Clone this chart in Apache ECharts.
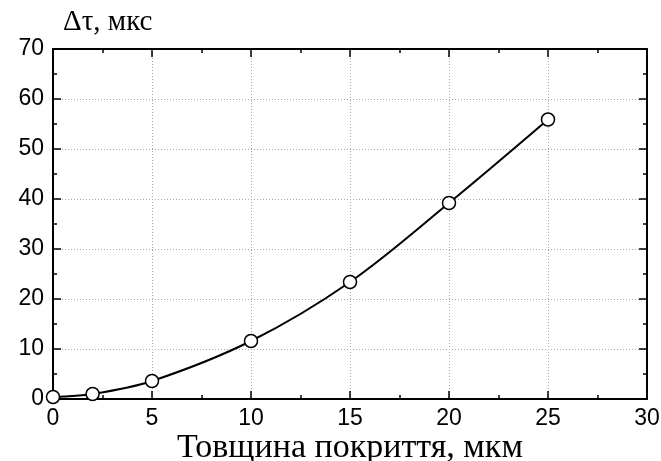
<!DOCTYPE html>
<html>
<head>
<meta charset="utf-8">
<script src="https://cdn.jsdelivr.net/npm/echarts@6/dist/echarts.min.js"></script>
<style>html,body{margin:0;padding:0;background:#fff}#c{width:661px;height:461px}</style>
</head>
<body>
<div id="c"></div>
<script>
const thickness = [0, 2, 5, 10, 15, 20, 25];
const delay = [0.4, 1.0, 3.6, 11.6, 23.4, 39.2, 55.9];
const xTitle = 'Товщина покриття, мкм';
const yTitle = 'Δτ, мкс';

const chart = echarts.init(document.getElementById('c'));
const axisCommon = {
  axisLine: {show: true, onZero: false, lineStyle: {color: '#000', width: 2}},
  axisTick: {show: true, inside: true, length: 8, lineStyle: {color: '#000', width: 1.5}},
  minorTick: {show: true, splitNumber: 2, length: 4, lineStyle: {color: '#000', width: 1.5}},
};
chart.setOption({
  animation: false,
  grid: {left: 53, right: 14, top: 49, bottom: 62, containLabel: false, outerBoundsMode: 'none'},
  xAxis: [
    Object.assign({
      type: 'value', min: 0, max: 30, interval: 5, position: 'bottom',
      name: xTitle, nameLocation: 'middle', nameGap: 32, nameMoveOverlap: false,
      nameTextStyle: {fontFamily: 'Liberation Serif', fontSize: 34, color: '#000'},
      axisLabel: {fontFamily: 'Liberation Sans', fontSize: 23, color: '#000', margin: 8},
      splitLine: {show: true, lineStyle: {color: '#aaa', type: [1, 2], width: 1}}
    }, axisCommon),
    Object.assign({
      type: 'value', min: 0, max: 30, interval: 5, position: 'top',
      axisLabel: {show: false}, splitLine: {show: false}
    }, axisCommon)
  ],
  yAxis: [
    Object.assign({
      type: 'value', min: 0, max: 70, interval: 10, position: 'left',
      name: yTitle, nameLocation: 'end', nameGap: 12,
      nameTextStyle: {fontFamily: 'Liberation Serif', fontSize: 29, color: '#000', align: 'left', padding: [0, 0, 0, 10]},
      axisLabel: {fontFamily: 'Liberation Sans', fontSize: 23, color: '#000', margin: 9},
      splitLine: {show: true, lineStyle: {color: '#aaa', type: [1, 2], width: 1}}
    }, axisCommon),
    Object.assign({
      type: 'value', min: 0, max: 70, interval: 10, position: 'right',
      axisLabel: {show: false}, splitLine: {show: false}
    }, axisCommon)
  ],
  series: [{
    type: 'line',
    data: thickness.map((x, i) => [x, delay[i]]),
    smooth: 0.35,
    symbol: 'circle', symbolSize: 13,
    lineStyle: {color: '#000', width: 2},
    itemStyle: {color: '#fff', borderColor: '#000', borderWidth: 1.5},
    z: 5
  }]
});
</script>
</body>
</html>
